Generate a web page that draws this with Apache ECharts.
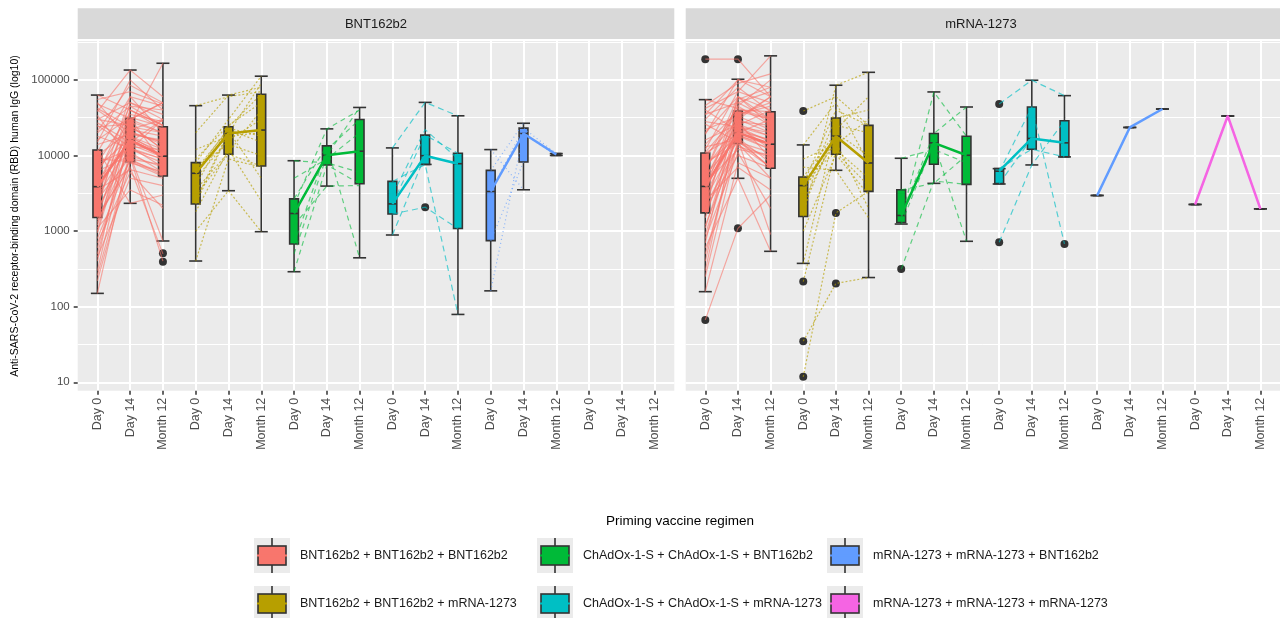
<!DOCTYPE html>
<html>
<head>
<meta charset="utf-8">
<script src="https://cdn.jsdelivr.net/npm/echarts@6/dist/echarts.min.js"></script>
<style>
  html, body { margin: 0; background: #fff; }
  #chart { width: 1280px; height: 618px; }
</style>
</head>
<body>
<div id="chart"></div>
<script>
// categories
const timepoints = ['Day 0', 'Day 14', 'Month 12'];
const regimens = [
  'BNT162b2 + BNT162b2 + BNT162b2',
  'BNT162b2 + BNT162b2 + mRNA-1273',
  'ChAdOx-1-S + ChAdOx-1-S + BNT162b2',
  'ChAdOx-1-S + ChAdOx-1-S + mRNA-1273',
  'mRNA-1273 + mRNA-1273 + BNT162b2',
  'mRNA-1273 + mRNA-1273 + mRNA-1273'
];
const boosters = ['BNT162b2', 'mRNA-1273'];
const yBreaks = [10, 100, 1000, 10000, 100000];
const yMinorBreaks = [31.6, 316, 3162, 31623, 316228];

// ---- booster BNT162b2 panel ----
// box stats per timepoint: [lower whisker, Q1, median, Q3, upper whisker]
const bntBoxBBB = [[150, 1510, 3870, 11800, 63000], [2330, 8280, 16000, 31000, 135000], [740, 5350, 9800, 24000, 166000]];
const bntBoxBBM = [[402, 2280, 5820, 8040, 45600], [3420, 10400, 19600, 24000, 63000], [982, 7250, 21700, 64600, 112000]];
const bntBoxCCB = [[290, 676, 1710, 2670, 8530], [3940, 7480, 10070, 13400, 22500], [443, 4230, 11400, 29900, 43200]];
const bntBoxCCM = [[888, 1680, 2290, 4540, 12600], [7620, 7620, 9940, 18600, 50400], [79, 1080, 7790, 10700, 33500]];
const bntBoxMMB = [[162, 747, 3340, 6350, 11970], [3520, 8200, 19500, 23000, 26700], [10000, 10000, 10300, 10600, 10600]];
// outliers: [timepoint index, value]
const bntOutBBB = [[2, 508], [2, 394]];
const bntOutCCM = [[1, 2070]];
// subjects: [Day 0, Day 14, Month 12]
const bntSubjBBB = [
  [150, 12000, 9000], [220, 8000, 6000], [300, 20000, 15000], [450, 5000, 4000], [600, 15000, 30000],
  [800, 9000, 5500], [950, 25000, 12000], [1100, 3500, 2200], [1300, 12000, 8000], [1500, 30000, 50000],
  [1600, 7000, 500], [1800, 18000, 10000], [2000, 11000, 6000], [2300, 40000, 25000], [2600, 9500, 400],
  [2900, 14000, 9500], [3200, 22000, 30000], [3500, 6500, 5000], [3870, 16000, 9800], [4200, 28000, 20000],
  [4800, 13000, 7000], [5500, 45000, 40000], [6200, 10000, 740], [7000, 17000, 11000], [8000, 35000, 28000],
  [9000, 8300, 5300], [10000, 21000, 14000], [11000, 60000, 45000], [12000, 2330, 3000], [14000, 19000, 16000],
  [16000, 32000, 24000], [18000, 12500, 9000], [21000, 85000, 50000], [24000, 26000, 166000], [27000, 15000, 10000],
  [30000, 50000, 35000], [34000, 9000, 7500], [38000, 135000, 60000], [42000, 24000, 20000], [48000, 31000, 8000],
  [55000, 70000, 48000], [63000, 40000, 22000], [25000, 13000, 12000], [700, 6000, 2000],
  [400, 30000, 20000], [1000, 40000, 25000], [1200, 22000, 18000], [2000, 50000, 30000], [3000, 60000, 20000],
  [500, 18000, 12000], [260, 10000, 7000], [6000, 30000, 50000], [15000, 100000, 40000], [40000, 20000, 15000],
  [50000, 16000, 10000], [8000, 12000, 30000], [20000, 45000, 25000], [30000, 25000, 12000], [1400, 8500, 6000]
];
const bntSubjBBM = [
  [402, 9000, 7000], [1000, 3420, 982], [1800, 12000, 2500], [2280, 20000, 21700], [3000, 10400, 7250],
  [4000, 24000, 64600], [5000, 16000, 30000], [5820, 19600, 90000], [6500, 22000, 15000], [7000, 14000, 10000],
  [8040, 30000, 112000], [9000, 25000, 50000], [12000, 18000, 20000], [20000, 63000, 80000], [45600, 60000, 70000],
  [2500, 21000, 5000], [3500, 11000, 40000], [6000, 23000, 18000]
];
const bntSubjCCB = [
  [290, 7500, 4230], [500, 10000, 43200], [676, 12000, 29900], [1200, 3940, 4000], [1710, 10070, 11400],
  [2200, 22500, 40000], [2670, 13400, 443], [5000, 9000, 20000], [8530, 8000, 6000]
];
const bntSubjCCM = [
  [888, 9940, 7790], [1680, 2070, 1080], [2290, 18600, 10700], [4540, 7620, 79], [12600, 50400, 33500], [3000, 22000, 9000]
];
const bntSubjMMB = [
  [162, 19500, 10000], [747, 8200, null], [3340, 23000, 10600], [6350, 26700, null], [11970, 3520, null]
];

// ---- booster mRNA-1273 panel ----
const modBoxBBB = [[158, 1740, 3900, 10800, 54800], [4990, 14400, 20000, 38700, 102000], [540, 6770, 14100, 37900, 208000]];
const modBoxBBM = [[374, 1560, 4000, 5190, 13800], [6370, 10400, 18000, 31300, 85000], [243, 3350, 7960, 25000, 126000]];
const modBoxCCB = [[1240, 1300, 1610, 3520, 9190], [4280, 7650, 14700, 19500, 69300], [733, 4150, 10070, 18000, 43800]];
const modBoxCCM = [[4200, 4240, 6200, 6700, 6700], [7500, 12100, 16800, 43800, 99000], [9580, 9580, 14700, 28800, 61900]];
const modBoxMMB = [[2960, 2960, 2960, 2960, 2960], [23500, 23500, 23500, 23500, 23500], [41200, 41200, 41200, 41200, 41200]];
const modBoxMMM = [[2250, 2250, 2250, 2250, 2250], [33300, 33300, 33300, 33300, 33300], [1970, 1970, 1970, 1970, 1970]];
const modOutBBB = [[0, 188000], [0, 66.7], [1, 188000], [1, 1090]];
const modOutBBM = [[0, 38700], [0, 215], [0, 35], [0, 11.8], [1, 1740], [1, 203]];
const modOutCCB = [[0, 314]];
const modOutCCM = [[0, 48000], [0, 711], [2, 676]];
const modSubjBBB = [
  [188000, 188000, 60000], [67, 1090, 3000], [158, 8000, 5000], [250, 15000, 9000], [400, 25000, 12000],
  [600, 5000, 540], [900, 20000, 30000], [1200, 14000, 7000], [1500, 30000, 60000], [1740, 18000, 14000],
  [2000, 10000, 6800], [2300, 40000, 38000], [2700, 16000, 900], [3000, 22000, 16000], [3400, 55000, 80000],
  [3900, 20000, 14100], [4300, 12000, 10000], [4800, 35000, 45000], [5500, 17000, 8000], [6200, 60000, 40000],
  [7000, 24000, 20000], [8000, 14400, 5000], [9000, 45000, 100000], [10000, 28000, 25000], [10800, 19000, 12000],
  [12000, 70000, 208000], [14000, 38700, 30000], [16000, 26000, 18000], [19000, 102000, 60000], [22000, 33000, 22000],
  [26000, 15000, 11000], [30000, 80000, 37900], [35000, 50000, 70000], [40000, 21000, 16000], [46000, 90000, 120000],
  [54800, 42000, 30000], [800, 11000, 2000], [2500, 7000, 3500], [5000, 28000, 9000], [13000, 16500, 6770],
  [300, 30000, 20000], [700, 45000, 25000], [1100, 25000, 40000], [1900, 60000, 30000], [2200, 13000, 10000],
  [3300, 32000, 60000], [4500, 24000, 15000], [6000, 50000, 30000], [7500, 18000, 12000], [11000, 35000, 50000],
  [20000, 60000, 25000], [28000, 24000, 18000], [35000, 100000, 80000], [42000, 70000, 50000], [500, 15500, 7000]
];
const modSubjBBM = [
  [11.8, 1740, 3350], [35, 203, 243], [215, 12000, 5000], [374, 25000, 20000], [1000, 10400, 3000],
  [1560, 85000, 126000], [2500, 18000, 7960], [3000, 31300, 40000], [3520, 15000, 2000], [4200, 40000, 25000],
  [5190, 20000, 10000], [7000, 6370, 1500], [9000, 14000, 30000], [13800, 50000, 8000], [38700, 60000, 25000],
  [2000, 22000, 60000], [4800, 11000, 4000]
];
const modSubjCCB = [
  [314, 4600, 4150], [1240, 14700, 733], [1450, 69300, 18000], [1610, 19500, 43800], [3520, 4280, 10070], [9190, 12000, 8000]
];
const modSubjCCM = [
  [48000, 99000, 61900], [711, 7500, 28800], [4240, 16800, 14700], [6050, 43800, 676], [6700, 12100, 9580]
];
const modSubjMMB = [[2960, 23500, 41200]];
const modSubjMMM = [[2250, 33300, 1970]];

// styling
const regimenColors = ['#F8766D', '#B79F00', '#00BA38', '#00BFC4', '#619CFF', '#F564E3'];
const subjDash = ['solid', [2, 2], [5, 4], [6, 4], [1, 3], 'solid'];
const subjAlpha = [0.6, 0.65, 0.6, 0.65, 0.7, 0.6];
const FONT = "'Liberation Sans', Arial, Helvetica, sans-serif";
const INK = '#333333';

const panels = [
  [
    { box: bntBoxBBB, out: bntOutBBB, subj: bntSubjBBB },
    { box: bntBoxBBM, out: [], subj: bntSubjBBM },
    { box: bntBoxCCB, out: [], subj: bntSubjCCB },
    { box: bntBoxCCM, out: bntOutCCM, subj: bntSubjCCM },
    { box: bntBoxMMB, out: [], subj: bntSubjMMB },
    null
  ],
  [
    { box: modBoxBBB, out: modOutBBB, subj: modSubjBBB },
    { box: modBoxBBM, out: modOutBBM, subj: modSubjBBM },
    { box: modBoxCCB, out: modOutCCB, subj: modSubjCCB },
    { box: modBoxCCM, out: modOutCCM, subj: modSubjCCM },
    { box: modBoxMMB, out: [], subj: modSubjMMB },
    { box: modBoxMMM, out: [], subj: modSubjMMM }
  ]
];

const yMin = 7.74, yMax = 327000;
const panelLeft = [77.7, 685.7];
const panelW = 596.6, panelTop = 41, panelH = 349.7;
const catIdx = [];
for (let i = 0; i < 18; i++) catIdx.push(i);

function boxRender(color) {
  return function (params, api) {
    const x = api.value(0);
    const p = [1, 2, 3, 4, 5].map(function (d) { return api.coord([x, api.value(d)]); });
    const cx = p[0][0];
    const cap = 6.5, half = 4.4;
    const st = { stroke: INK, lineWidth: 1.6 };
    return {
      type: 'group',
      children: [
        { type: 'line', shape: { x1: cx, y1: p[4][1], x2: cx, y2: p[0][1] }, style: st },
        { type: 'line', shape: { x1: cx - cap, y1: p[4][1], x2: cx + cap, y2: p[4][1] }, style: st },
        { type: 'line', shape: { x1: cx - cap, y1: p[0][1], x2: cx + cap, y2: p[0][1] }, style: st },
        { type: 'rect', shape: { x: cx - half, y: p[3][1], width: half * 2, height: p[1][1] - p[3][1] },
          style: { fill: color, stroke: INK, lineWidth: 1.6 } },
        { type: 'line', shape: { x1: cx - half, y1: p[2][1], x2: cx + half, y2: p[2][1] }, style: st }
      ]
    };
  };
}

const xAxes = [], yAxes = [], grids = [], series = [];
panels.forEach(function (groups, pi) {
  grids.push({
    left: panelLeft[pi], top: panelTop, width: panelW, height: panelH,
    show: true, backgroundColor: '#EBEBEB', borderWidth: 0
  });
  xAxes.push({
    gridIndex: pi, type: 'value', min: -0.6, max: 17.6,
    axisLine: { show: false, onZero: false },
    axisTick: { show: true, customValues: catIdx, length: 4, lineStyle: { color: INK, width: 1.5 } },
    axisLabel: {
      customValues: catIdx, rotate: 90, margin: 7, color: '#4D4D4D', fontSize: 12.5, fontFamily: FONT,
      formatter: function (v) { return timepoints[Math.round(v) % 3]; }
    },
    splitLine: { show: true, lineStyle: { color: '#FFFFFF', width: 2 } }
  });
  yAxes.push({
    gridIndex: pi, type: 'log', logBase: 10, min: yMin, max: yMax, position: 'left',
    axisLine: { show: false, onZero: false },
    axisTick: { show: pi === 0, customValues: yBreaks, length: 4, lineStyle: { color: INK, width: 1.5 } },
    axisLabel: {
      show: pi === 0, customValues: yBreaks, margin: 8, color: '#4D4D4D', fontSize: 11.5, fontFamily: FONT,
      formatter: function (v) { return String(Math.round(v)); }
    },
    splitLine: { show: true, lineStyle: { color: '#FFFFFF', width: 2 } }
  });
  yAxes.push({
    gridIndex: pi, type: 'log', logBase: 10, min: yMin, max: yMax, position: 'left',
    axisLine: { show: false, onZero: false },
    axisTick: { show: false, customValues: yMinorBreaks },
    axisLabel: { show: false, customValues: yMinorBreaks },
    splitLine: { show: true, lineStyle: { color: '#FFFFFF', width: 1 } }
  });
  const yi = pi * 2;
  groups.forEach(function (g, r) {
    if (!g) return;
    const color = regimenColors[r];
    const off = r * 3;
    series.push({
      type: 'custom', name: regimens[r], xAxisIndex: pi, yAxisIndex: yi, z: 2, silent: true,
      itemStyle: { color: color },
      renderItem: boxRender(color),
      encode: { x: 0, y: [1, 2, 3, 4, 5] },
      data: g.box.map(function (b, t) { return [off + t].concat(b); })
    });
    if (g.out.length) {
      series.push({
        type: 'scatter', xAxisIndex: pi, yAxisIndex: yi, z: 2, silent: true,
        symbolSize: 8, itemStyle: { color: INK, opacity: 1 },
        data: g.out.map(function (o) { return [off + o[0], o[1]]; })
      });
    }
    series.push({
      type: 'lines', coordinateSystem: 'cartesian2d', xAxisIndex: pi, yAxisIndex: yi,
      polyline: true, silent: true, z: 3,
      lineStyle: { color: color, width: 1.2, opacity: subjAlpha[r], type: subjDash[r] },
      data: g.subj.map(function (s) {
        return {
          coords: s.map(function (v, t) { return v == null ? null : [off + t, v]; })
                   .filter(function (c) { return c; })
        };
      })
    });
    series.push({
      type: 'line', xAxisIndex: pi, yAxisIndex: yi, z: 4, silent: true,
      showSymbol: false, symbol: 'none',
      lineStyle: { color: color, width: 2.5 },
      data: g.box.map(function (b, t) { return [off + t, b[2]]; })
    });
  });
});

function keyIcon(color) {
  const svg = '<svg xmlns="http://www.w3.org/2000/svg" width="36" height="35" viewBox="0 0 36 35">' +
    '<rect width="36" height="35" fill="#EBEBEB"/>' +
    '<line x1="18" y1="0" x2="18" y2="8" stroke="#333333" stroke-width="1.6"/>' +
    '<line x1="18" y1="27" x2="18" y2="35" stroke="#333333" stroke-width="1.6"/>' +
    '<rect x="4" y="8" width="28" height="19" fill="' + color + '" stroke="#333333" stroke-width="1.6"/>' +
    '<line x1="3" y1="17.5" x2="33" y2="17.5" stroke="' + color + '" stroke-width="2"/>' +
    '</svg>';
  return 'image://data:image/svg+xml;charset=utf-8,' + encodeURIComponent(svg);
}

const legendCols = [[0, 1], [2, 3], [4, 5]];
const legendLeft = [254, 537, 827];
const legends = legendCols.map(function (col, ci) {
  return {
    orient: 'vertical', left: legendLeft[ci], top: 538, height: 140, padding: 0,
    itemWidth: 36, itemHeight: 35, itemGap: 13, selectedMode: false,
    textStyle: { fontSize: 12.5, color: '#1A1A1A', fontFamily: FONT, padding: [0, 0, 0, 5] },
    data: col.map(function (r) { return { name: regimens[r], icon: keyIcon(regimenColors[r]) }; })
  };
});

const graphics = [];
boosters.forEach(function (b, pi) {
  graphics.push({
    type: 'rect', shape: { x: panelLeft[pi], y: 8.3, width: panelW, height: 30.7 },
    style: { fill: '#D9D9D9' }, silent: true
  });
  graphics.push({
    type: 'text', x: panelLeft[pi] + panelW / 2 - (pi === 1 ? 3 : 0), y: 24,
    style: { text: b, fill: '#1A1A1A', font: '13px ' + FONT, textAlign: 'center', textVerticalAlign: 'middle' },
    silent: true
  });
});
graphics.push({
  type: 'text', x: 15, y: 216, rotation: Math.PI / 2,
  style: {
    text: 'Anti-SARS-CoV-2 receptor-binding domain (RBD) human IgG (log10)',
    fill: '#000000', font: '10.5px ' + FONT, textAlign: 'center', textVerticalAlign: 'middle'
  },
  silent: true
});
graphics.push({
  type: 'text', x: 680, y: 521,
  style: { text: 'Priming vaccine regimen', fill: '#000000', font: '13.5px ' + FONT, textAlign: 'center', textVerticalAlign: 'middle' },
  silent: true
});

const chart = echarts.init(document.getElementById('chart'), null, { renderer: 'canvas' });
chart.setOption({
  animation: false,
  backgroundColor: '#FFFFFF',
  grid: grids,
  xAxis: xAxes,
  yAxis: yAxes,
  legend: legends,
  graphic: graphics,
  series: series
});
</script>
</body>
</html>
